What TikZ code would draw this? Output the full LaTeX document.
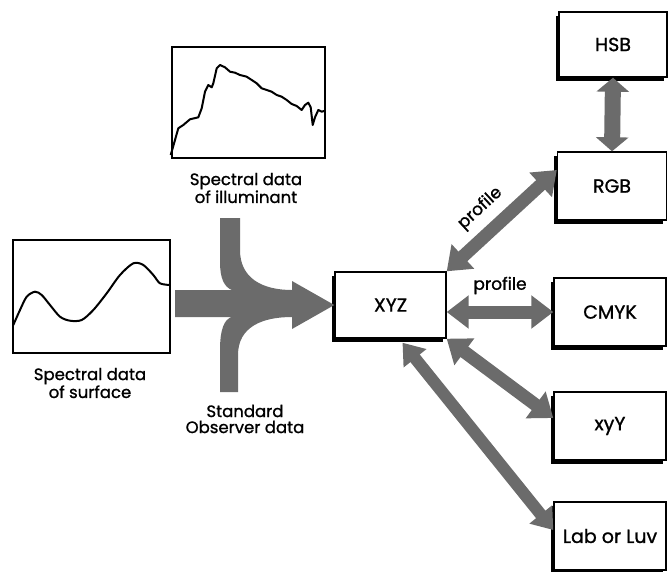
\documentclass[tikz,border=0pt]{standalone}
\usepackage{fontspec}
\setmainfont{Poppins}[FakeBold=1.1]
\usetikzlibrary{arrows.meta,shadows,calc}
\tikzset{
  box/.style={draw=black, line width=1.4pt, fill=white, minimum width=111pt, minimum height=66pt,
    font=\fontsize{19}{21}\selectfont,
    drop shadow={shadow xshift=-3.5pt, shadow yshift=-3.5pt, fill=black, opacity=1}},
  plotframe/.style={draw=black, line width=1.2pt},
  curve/.style={draw=black, line width=2pt, line join=round},
  caption/.style={align=center, font=\fontsize{16.5}{16}\selectfont},
  fat/.style={draw=black!58, line width=13pt,
    arrows={Triangle[width=32pt,length=22pt]-Triangle[width=32pt,length=22pt]}},
  lbl/.style={font=\fontsize{17}{18}\selectfont, text=black}
}
\begin{document}
\begin{tikzpicture}[x=1pt,y=-1pt]
\useasboundingbox (0,0) rectangle (668,571);
% plots
\draw[plotframe] (172,47) rectangle (325,158);
\draw[curve] plot coordinates {(170.7,155) (175,140) (178.3,128.3) (183.3,125) (190,119.3) (198.3,117.3) (201.7,108.3) (205,91.7) (208.3,85) (211.7,87.3) (213.3,83.3) (216.7,68.3) (220,65) (225,67.3) (230,71.7) (235,72.7) (240,75) (246.7,76.7) (251.7,80) (256.7,83.3) (261.7,88.3) (266.7,90) (271.7,91.7) (276.7,95) (281.7,96.7) (286.7,100) (291.7,104) (296.7,106) (301.7,110) (305,105) (308.3,102.7) (310.7,107.3) (312.7,125) (315,117.3) (318.3,110) (321.7,111.7) (325,110.7)};
\node[caption] (illum) at (246,188) {Spectral data\\of illuminant};
\draw[plotframe] (13,240) rectangle (170,353);
\draw[curve] plot[smooth] coordinates {(13.3,325) (20,310) (26.7,296.7) (35,291.7) (41.7,295) (50,305) (60,316.7) (70,320.7) (81.7,320) (93.3,310) (106.7,293.3) (120,275) (133.3,263.3) (143.3,265) (153.3,275) (160,283.3) (170,285)};
\node[caption] (surf) at (90,383) {Spectral data\\of surface};
\node[caption] (obs) at (245,419) {Standard\\Observer data};
% boxes
\node[box] (xyz) at (390.5,305) {XYZ};
\node[box, minimum width=112pt, minimum height=68pt] (cmyk) at (610,312) {CMYK};
\node[box, minimum width=112pt, minimum height=68pt] (xyy) at (610,426) {xyY};
\node[box, minimum width=112pt, minimum height=68pt] (lab) at (610,536) {Lab or Luv};
\node[box, minimum width=108pt, minimum height=65pt] (hsb) at (613,44.5) {HSB};
\node[box, minimum width=109pt, minimum height=68pt] (rgb) at (612,186) {RGB};
% merging arrow
\fill[black!58] (220,218) -- (240,218) -- (240,250) .. controls (240,278) and (262,290) .. (292,290)
  -- (292,281) -- (xyz.west) -- (292,329) -- (292,317)
  .. controls (262,317) and (238,327) .. (238,355) -- (238,392) -- (220,392) -- (220,350)
  .. controls (220,330) and (224,319) .. (232,317) -- (175,317) -- (175,290) -- (232,290)
  .. controls (224,287) and (220,278) .. (220,262) -- cycle;
% connectors
\draw[fat, line width=16pt, arrows={Triangle[width=32pt,length=14pt]-Triangle[width=32pt,length=14pt]}] (hsb.south) -- (rgb.north);
\draw[fat] (xyz.north east) -- node[lbl, sloped, above=5pt, pos=0.45] {profile} ($(rgb.west)+(0,-16)$);
\draw[fat] (xyz.east |- cmyk.west) -- node[lbl, above=8pt] {profile} (cmyk.west);
\draw[fat] (xyz.south east) -- ($(xyy.west)+(0,-8)$);
\draw[fat, line width=12pt, arrows={Triangle[width=28pt,length=20pt]-Triangle[width=28pt,length=20pt]}] ($(xyz.south)+(12,4)$) -- ($(lab.west)+(0,-6)$);
\end{tikzpicture}
\end{document}
